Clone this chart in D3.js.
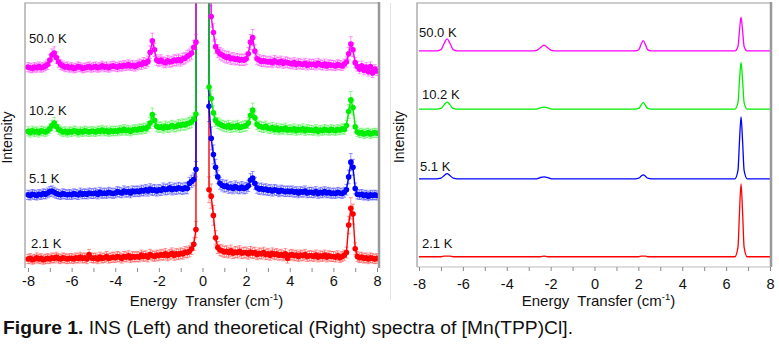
<!DOCTYPE html>
<html>
<head>
<meta charset="utf-8">
<script src="https://cdn.jsdelivr.net/npm/d3@7"></script>
<style>
  body { margin: 0; background: #fff; }
  text { font-family: Arial, "Liberation Sans", sans-serif; }
</style>
</head>
<body>
<div id="chart"></div>
<script>
// measured sampling grid, -8 .. 8 cm-1 in 0.1 steps
const energy = d3.range(161).map(i => Math.round((-8 + i * 0.1) * 10) / 10);

// INS intensities (arb. units, above each trace's own baseline)
const ins21 = [
  2,3,1,2,4,2,3,1,2,3,  2,4,3,5,3,2,4,3,2,3,  3,2,4,3,5,3,4,2,9,4,
  3,4,2,5,3,4,6,3,4,5,  4,6,5,3,6,5,7,4,6,5,  6,5,8,6,7,5,9,7,6,8,
  7,9,8,10,7,9,11,8,10,9,  11,10,13,12,14,18,25,48,4000,9000,
  9000,7000,3000,110,100,70,35,20,16,15,  13,14,12,15,11,13,12,14,11,12,
  12,10,13,11,12,9,11,10,12,9,  10,8,11,9,10,8,9,7,10,3,  8,9,7,8,6,8,7,9,6,7,
  7,6,8,5,7,6,8,5,7,6,  6,5,7,4,6,8,12,55,81,72,  18,6,4,5,3,4,2,4,3,2,  3
];
const ins51 = [
  2,1,3,2,1,3,2,4,3,5,  7,8,6,4,3,2,4,3,2,3,  2,4,3,2,5,3,4,3,5,4,
  4,5,3,6,4,5,4,6,5,4,  5,7,6,5,8,6,7,5,8,7,  8,7,9,8,10,8,11,9,10,8,
  10,9,12,10,11,13,10,12,11,13,  12,11,13,12,20,23,26,42,4000,9000,
  9000,7000,4000,140,90,65,45,30,20,17,  15,16,13,14,12,15,13,12,14,12,
  13,16,25,28,20,13,11,12,10,11,  9,10,8,10,9,7,9,8,7,8,  7,8,6,7,5,7,6,8,5,6,
  6,5,7,4,6,5,7,5,6,4,  5,4,6,5,4,6,10,30,53,45,  12,3,2,3,1,2,0,2,1,2,  1
];
const ins102 = [
  1,-1,2,0,1,-1,2,1,0,2,  5,10,14,9,4,2,0,1,-1,1,  0,2,1,-1,1,0,2,1,0,1,
  1,0,2,1,3,1,2,0,2,1,  2,1,3,2,4,2,3,1,3,4,  3,5,4,6,5,8,14,27,18,9,
  7,8,6,9,7,8,10,8,9,11,  10,12,11,13,14,16,20,28,4000,9000,
  9000,7000,4000,70,52,30,18,14,12,10,  9,8,10,7,9,8,10,7,8,9,
  10,14,26,34,22,12,9,8,7,9,  6,5,7,4,6,3,5,4,6,3,  4,3,5,2,4,3,5,2,4,3,
  3,2,4,1,3,2,4,3,2,4,  3,2,4,3,5,4,10,32,50,38,  8,0,-2,-1,-3,-2,-1,-3,-2,-1,  -2
];
const ins500 = [
  1,0,-1,1,0,2,0,1,3,5,  12,20,23,16,9,5,3,1,2,0,  1,-1,0,2,1,-1,0,1,2,0,
  1,2,0,1,3,1,2,0,2,3,  2,1,3,2,4,3,5,3,4,2,  4,6,5,8,7,10,24,42,28,12,
  10,12,9,8,11,9,10,12,11,13,  11,14,15,18,20,23,32,40,4000,9000,
  9000,7000,4000,300,80,55,33,26,22,20,  18,16,17,14,15,13,14,12,13,12,
  14,22,40,47,26,14,12,10,11,10,  9,10,8,11,9,8,10,7,9,8,  7,6,8,5,7,6,5,7,4,6,
  5,6,4,7,5,4,6,3,5,4,  4,3,5,4,3,6,9,22,37,28,  8,2,-2,3,-4,1,-6,2,-8,-2,  -5
];

// theoretical spectra, sampled around the four transitions
const theoryEnergy = [-8, -7.2, -7.0, -6.85, -6.72, -6.59, -6.44, -6.25,
  -2.85, -2.64, -2.47, -2.3, -2.13, -1.96, -1.75,
  1.85, 2.02, 2.12, 2.22, 2.32, 2.42, 2.6,
  6.4, 6.54, 6.61, 6.68, 6.75, 6.82, 6.96, 8];
const calc21 = [0, 0,0,1,1,1,0,0, 0,0,0,1,0,0,0, 0,0,1,1,1,0,0, 0,15,70,114,70,15,0, 0];
const calc51 = [0, 0,1,5,8,5,1,0, 0,0,2,3,2,0,0, 0,1,4,6,4,1,0, 0,13,59,97,59,13,0, 0];
const calc102 = [0, 0,1,7,11,7,1,0, 0,0,2,3,2,0,0, 0,1,6,10,6,1,0, 0,10,45,73,45,10,0, 0];
const calc500 = [0, 0,2,12,19,12,2,0, 0,1,5,9,5,1,0, 0,2,10,16,10,2,0, 0,7,32,53,32,7,0, 0];

const temps = ["2.1 K", "5.1 K", "10.2 K", "50.0 K"];
const colors = ["#ff0000", "#0000ff", "#00ee00", "#ff00ff"];
const insOffsets = [0, 100, 200, 300];
const calcOffsets = [0, 122, 231, 322];
const xTicks = d3.range(-8, 9, 1);

const svg = d3.select("#chart").append("svg")
  .attr("width", 779)
  .attr("height", 351)
  .style("display", "block");

svg.append("rect").attr("width", 779).attr("height", 351).attr("fill", "#fff");

// faint divider between the two figures
svg.append("line")
  .attr("x1", 390.5).attr("x2", 390.5)
  .attr("y1", 3).attr("y2", 300)
  .attr("stroke", "#e4e4e4");

function drawPanel(opts) {
  const g = svg.append("g");
  const x = d3.scaleLinear().domain([-8, 8]).range(opts.xRange);
  const y = d3.scaleLinear().domain(opts.yDomain).range([opts.frame[3], opts.frame[1]]);
  const [fx0, fy0, fx1, fy1] = opts.frame;

  g.append("clipPath").attr("id", opts.id + "-clip")
    .append("rect")
    .attr("x", fx0).attr("y", fy0)
    .attr("width", fx1 - fx0).attr("height", fy1 - fy0);

  const plot = g.append("g").attr("clip-path", `url(#${opts.id}-clip)`);

  opts.series.forEach((vals, k) => {
    const pts = vals.map((v, i) => [opts.xs[i], v + opts.offsets[k]]);
    const line = d3.line()
      .x(d => x(d[0]))
      .y(d => y(Math.min(d[1], 20000)))
      .curve(opts.curve);

    if (opts.markers) {
      const shown = pts.filter(d => d[1] < opts.yDomain[1] + 20);
      const err = plot.append("g")
        .attr("stroke", colors[k])
        .attr("stroke-opacity", 0.4)
        .attr("stroke-width", 1);
      shown.forEach(d => {
        const e = 7 + Math.max(0, d[1] - opts.offsets[k]) * 0.12;
        err.append("line")
          .attr("x1", x(d[0])).attr("x2", x(d[0]))
          .attr("y1", y(d[1] - e)).attr("y2", y(d[1] + e));
        err.append("line")
          .attr("x1", x(d[0]) - 2).attr("x2", x(d[0]) + 2)
          .attr("y1", y(d[1] + e)).attr("y2", y(d[1] + e));
        err.append("line")
          .attr("x1", x(d[0]) - 2).attr("x2", x(d[0]) + 2)
          .attr("y1", y(d[1] - e)).attr("y2", y(d[1] - e));
      });
    }

    plot.append("path")
      .datum(pts)
      .attr("fill", "none")
      .attr("stroke", colors[k])
      .attr("stroke-width", opts.lineWidth)
      .attr("d", line);

    if (opts.markers) {
      plot.append("g").selectAll("circle")
        .data(pts.filter(d => d[1] < opts.yDomain[1] + 20))
        .enter()
        .append("circle")
        .attr("cx", d => x(d[0]))
        .attr("cy", d => y(d[1]))
        .attr("r", 2.8)
        .attr("fill", colors[k]);
    }
  });

  // frame
  g.append("path")
    .attr("d", `M${fx0},${fy1}V${fy0}H${fx1}`)
    .attr("fill", "none")
    .attr("stroke", "#999")
    .attr("stroke-width", 1.2);
  g.append("line")
    .attr("x1", fx1).attr("x2", fx1)
    .attr("y1", fy0 - 1).attr("y2", fy1)
    .attr("stroke", "#999")
    .attr("stroke-width", 2.5);
  g.append("line")
    .attr("x1", fx0).attr("x2", fx1)
    .attr("y1", fy1).attr("y2", fy1)
    .attr("stroke", opts.bottomLine)
    .attr("stroke-width", 1);

  // x axis: minor ticks every unit, labels on even values
  const minor = g.append("g")
    .attr("transform", `translate(0,${fy1})`)
    .call(d3.axisBottom(x).tickValues(xTicks.filter(t => t % 2 !== 0)).tickSize(4).tickFormat(""));
  const major = g.append("g")
    .attr("transform", `translate(0,${fy1})`)
    .call(d3.axisBottom(x).tickValues(xTicks.filter(t => t % 2 === 0)).tickSize(4).tickPadding(opts.tickPad)
      .tickFormat(d => String(d)));
  [minor, major].forEach(a => {
    a.select(".domain").remove();
    a.selectAll("line").attr("stroke", "#888");
  });
  major.selectAll("text")
    .attr("fill", "#111")
    .style("font-size", "14.5px");

  g.append("text")
    .attr("x", (opts.xRange[0] + opts.xRange[1]) / 2 + 4)
    .attr("y", opts.titleY)
    .attr("text-anchor", "middle")
    .attr("fill", "#111")
    .style("font-size", "15px")
    .style("white-space", "pre")
    .text("Energy  Transfer (cm")
    .append("tspan").attr("dy", -6).style("font-size", "9.5px").text("-1")
    .clone().attr("dy", 6).style("font-size", "15px").text(")");

  g.append("text")
    .attr("transform", `translate(${opts.ylabX},${(fy0 + fy1) / 2 + 2}) rotate(-90)`)
    .attr("text-anchor", "middle")
    .attr("fill", "#111")
    .style("font-size", "14px")
    .text("Intensity");

  opts.labels.forEach((p, k) => {
    g.append("text")
      .attr("x", p[0]).attr("y", p[1])
      .attr("fill", "#111")
      .style("font-size", "13px")
      .text(temps[k]);
  });
}

drawPanel({
  id: "ins",
  frame: [25, 3, 379, 268],
  xRange: [28, 377],
  yDomain: [-12, 401],
  xs: energy,
  series: [ins21, ins51, ins102, ins500],
  offsets: insOffsets,
  curve: d3.curveLinear,
  lineWidth: 1.4,
  markers: true,
  bottomLine: "none",
  tickPad: 4,
  titleY: 306,
  ylabX: 12,
  labels: [[31, 248], [29, 183], [29, 115], [29, 43]]
});

drawPanel({
  id: "calc",
  frame: [417, 3, 771, 267],
  xRange: [419, 770],
  yDomain: [-16, 397],
  xs: theoryEnergy,
  series: [calc21, calc51, calc102, calc500],
  offsets: calcOffsets,
  curve: d3.curveMonotoneX,
  lineWidth: 1.3,
  markers: false,
  bottomLine: "#bbb",
  tickPad: 8,
  titleY: 306,
  ylabX: 404,
  labels: [[422, 248], [420, 171], [422, 99], [419, 37]]
});

// caption
const cap = svg.append("text")
  .attr("x", 3)
  .attr("y", 334)
  .attr("textLength", 570)
  .attr("lengthAdjust", "spacingAndGlyphs")
  .attr("fill", "#111")
  .style("font-size", "18px");
cap.append("tspan").style("font-weight", "bold").text("Figure 1.");
cap.append("tspan").text(" INS (Left) and theoretical (Right) spectra of [Mn(TPP)Cl].");
</script>
</body>
</html>
